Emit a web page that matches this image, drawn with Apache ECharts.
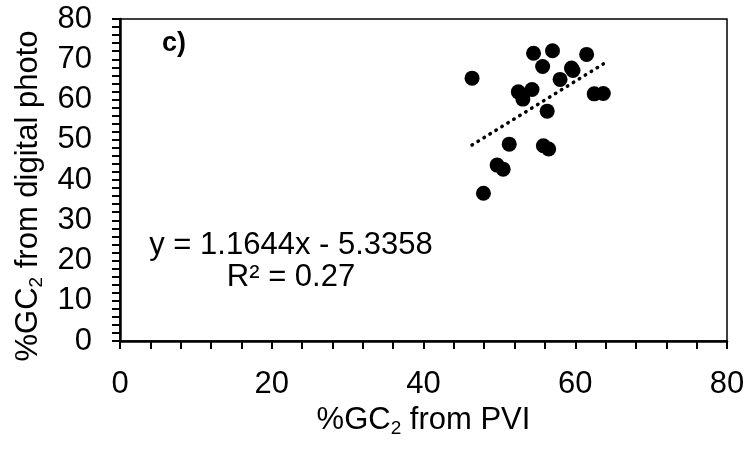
<!DOCTYPE html>
<html>
<head>
<meta charset="utf-8">
<script src="https://cdn.jsdelivr.net/npm/echarts@6/dist/echarts.min.js"></script>
<style>
  html, body { margin: 0; padding: 0; background: #fff; }
  #chart { width: 751px; height: 449px; }
</style>
</head>
<body>
<div id="chart"></div>
<script>
// %GC2 from PVI (x) vs %GC2 from digital photo (y)
var pviX = [46.4, 54.5, 57.0, 61.5, 55.7, 59.5, 59.7, 58.0, 52.5, 54.3,
            53.1, 62.5, 63.7, 56.3, 51.3, 55.8, 56.5, 49.7, 50.5, 47.9];
var photoY = [65.3, 71.5, 72.1, 71.2, 68.2, 67.8, 67.2, 65.0, 61.9, 62.5,
              60.1, 61.4, 61.5, 57.1, 48.9, 48.5, 47.7, 43.7, 42.7, 36.7];

// linear trend reported on the figure
var slope = 1.1644;
var intercept = -5.3358;
var r2 = 0.27;

var xTicks = [0, 20, 40, 60, 80];
var yTicks = [0, 10, 20, 30, 40, 50, 60, 70, 80];

var font = 'Liberation Sans, Arial, sans-serif';

var points = pviX.map(function (x, i) { return [x, photoY[i]]; });
var xMin = Math.min.apply(null, pviX);
var xMax = Math.max.apply(null, pviX);
var trend = [[xMin, slope * xMin + intercept], [xMax, slope * xMax + intercept]];

var subStyle = { fontFamily: font, fontSize: 19, color: '#000', verticalAlign: 'bottom', padding: [16, 0, 0, 0] };

var chart = echarts.init(document.getElementById('chart'));
chart.setOption({
  animation: false,
  backgroundColor: '#fff',
  grid: {
    left: 120, right: 24, top: 19, bottom: 108,
    show: true, borderColor: '#000', borderWidth: 1.5
  },
  xAxis: {
    type: 'value',
    min: xTicks[0], max: xTicks[xTicks.length - 1], interval: 20,
    name: '%GC{sub|2} from PVI',
    nameLocation: 'middle',
    nameGap: 62,
    nameTextStyle: { fontFamily: font, fontSize: 31, color: '#000', rich: { sub: subStyle } },
    axisLine: { onZero: false, lineStyle: { color: '#000', width: 2.5 } },
    axisTick: { show: true, inside: false, length: 8, lineStyle: { color: '#000', width: 2 } },
    minorTick: { show: true, splitNumber: 5, length: 8, lineStyle: { color: '#000', width: 2 } },
    axisLabel: { fontFamily: font, fontSize: 31, color: '#000', margin: 28 },
    splitLine: { show: false }
  },
  yAxis: {
    type: 'value',
    min: yTicks[0], max: yTicks[yTicks.length - 1], interval: 10,
    name: '%GC{sub|2} from digital photo',
    nameLocation: 'middle',
    nameGap: 74,
    nameTextStyle: {
      fontFamily: font, fontSize: 31, color: '#000',
      padding: [0, 32, 0, 0],
      rich: { sub: subStyle }
    },
    axisLine: { onZero: false, lineStyle: { color: '#000', width: 2.5 } },
    axisTick: { show: true, inside: false, length: 8, lineStyle: { color: '#000', width: 2 } },
    minorTick: { show: true, splitNumber: 5, length: 8, lineStyle: { color: '#000', width: 2 } },
    axisLabel: { fontFamily: font, fontSize: 31, color: '#000', margin: 28 },
    splitLine: { show: false }
  },
  series: [
    {
      type: 'line',
      data: trend,
      symbol: 'none',
      silent: true,
      lineStyle: { color: '#000', width: 3.5, type: [0.5, 6.5], cap: 'round' },
      z: 1
    },
    {
      type: 'scatter',
      data: points,
      symbol: 'circle',
      symbolSize: 15,
      itemStyle: { color: '#000', opacity: 1 },
      z: 2
    }
  ],
  graphic: [
    {
      type: 'text', left: 162, top: 30,
      style: { text: 'c)', font: 'bold 27px ' + font, fill: '#000' }
    },
    {
      type: 'text', x: 291, y: 229,
      style: {
        text: 'y = ' + slope.toFixed(4) + 'x - ' + Math.abs(intercept).toFixed(4) + '\nR² = ' + r2,
        font: '31px ' + font, fill: '#000', align: 'center', lineHeight: 32
      }
    }
  ]
});
</script>
</body>
</html>
